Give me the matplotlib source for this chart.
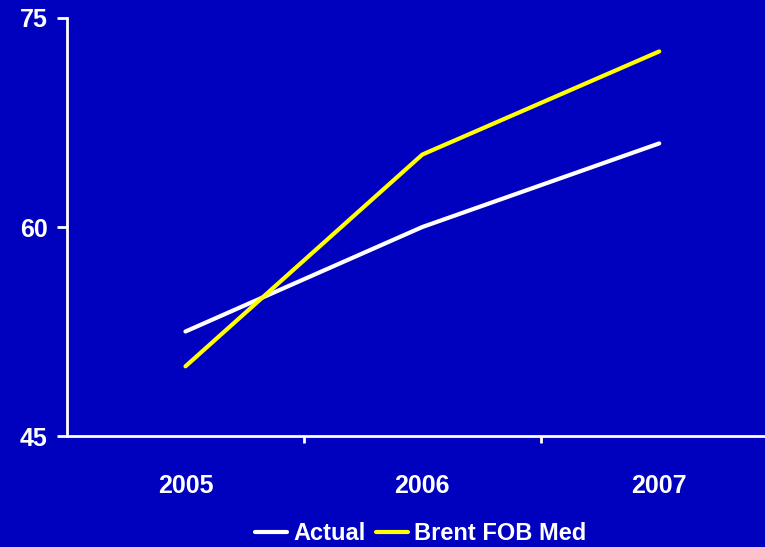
import matplotlib
matplotlib.use("Agg")
import matplotlib.pyplot as plt
from matplotlib.ticker import FixedLocator

years = ["2005", "2006", "2007"]
actual = [52.5, 60.0, 66.0]
brent = [50.0, 65.2, 72.6]
yticks = [45, 60, 75]

bg = "#0000BF"
plt.rcParams["font.family"] = ["Liberation Sans", "DejaVu Sans"]
plt.rcParams["font.weight"] = "bold"

fig = plt.figure(figsize=(7.65, 5.47), dpi=100, facecolor=bg)
ax = fig.add_axes([0.0876, 0.2029, 0.929, 0.7642], facecolor=bg)

x = list(range(len(years)))
ax.plot(x, actual, color="white", lw=3, solid_capstyle="round", label="Actual")
ax.plot(x, brent, color="#FFFF00", lw=3, solid_capstyle="round", label="Brent FOB Med")

ax.set_xlim(-0.5, 2.5)
ax.set_ylim(45, 75)
ax.set_yticks(yticks)
ax.set_xticks(x)
ax.set_xticklabels(years)
ax.xaxis.set_minor_locator(FixedLocator([0.5, 1.5, 2.5]))

for s in ["top", "right"]:
    ax.spines[s].set_visible(False)
for s in ["left", "bottom"]:
    ax.spines[s].set_color("white")
    ax.spines[s].set_linewidth(2)

ax.tick_params(axis="y", colors="white", length=7, width=2, pad=7, labelsize=18)
ax.tick_params(axis="x", which="major", length=0, pad=27, colors="white", labelsize=18)
ax.tick_params(axis="x", which="minor", length=5, width=2, colors="white", direction="out")

leg = fig.legend(loc="center", bbox_to_anchor=(0.55, 0.025), ncol=2, frameon=False,
                 fontsize=17, handlelength=1.35, handletextpad=0.25, columnspacing=0.45,
                 labelcolor="white")

fig.savefig("out.png", dpi=100, facecolor=bg)
